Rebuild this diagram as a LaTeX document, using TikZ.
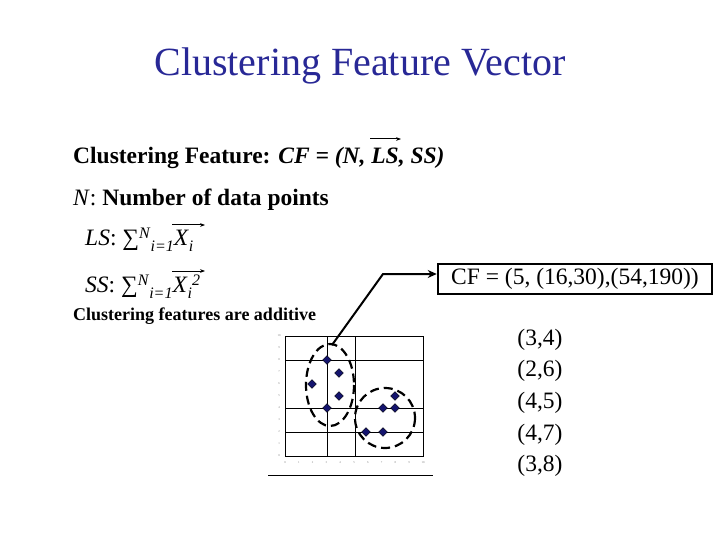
\documentclass[tikz,border=0pt]{standalone}
\usepackage{fontspec}
\setmainfont{Liberation Serif}
\usetikzlibrary{arrows.meta,shapes.geometric}
\definecolor{ttl}{RGB}{40,40,150}
\definecolor{pt}{RGB}{20,20,110}
\begin{document}
\begin{tikzpicture}[x=1pt,y=-1pt,
  lbl/.style={anchor=west,inner sep=0pt,font=\fontsize{23.5}{25}\selectfont},
  pnt/.style={diamond,fill=pt,draw=black,line width=0.3pt,minimum size=9pt,inner sep=0pt,shape aspect=1},
  grid/.style={line width=0.6pt},
  dashring/.style={line width=2.2pt,dash pattern=on 9pt off 5pt}]
\useasboundingbox (0,0) rectangle (720,540);
\node[font=\fontsize{40}{44}\selectfont,text=ttl] (title) at (360,66) {Clustering Feature Vector};
\node[lbl] (cf) at (73,158) {\textbf{Clustering Feature:} \textbf{\textit{CF = (N, LS, SS)}}};
\draw[-{Stealth[length=5pt]},line width=1pt] (370,139) -- (401,139);
\node[lbl] (n) at (73,200) {\textit{N}: \textbf{Number of data points}};
\node[lbl] (ls) at (85,240) {\textit{LS}: ∑\raisebox{7pt}{\fontsize{16}{16}\selectfont\textit{N}}\raisebox{-6pt}{\fontsize{16}{16}\selectfont\textit{i=1}}\textit{X}\raisebox{-6pt}{\fontsize{16}{16}\selectfont\textit{i}}};
\draw[-{Stealth[length=5pt]},line width=1pt] (172,225) -- (205,225);
\node[lbl] (ss) at (85,287) {\textit{SS}: ∑\raisebox{7pt}{\fontsize{16}{16}\selectfont\textit{N}}\raisebox{-6pt}{\fontsize{16}{16}\selectfont\textit{i=1}}\textit{X}\raisebox{-6pt}{\fontsize{16}{16}\selectfont\textit{i}}\raisebox{7pt}{\fontsize{16}{16}\selectfont\textit{2}}};
\draw[-{Stealth[length=5pt]},line width=1pt] (172,271) -- (205,271);
\node[lbl,font=\fontsize{18}{20}\selectfont\bfseries] (add) at (73,316) {Clustering features are additive};
% plot
\draw[grid] (285,336) rectangle (423,456);
\foreach \yy in {360,408,432} \draw[grid] (285,\yy) -- (423,\yy);
\foreach \xx in {327,355} \draw[grid] (\xx,336) -- (\xx,456);
\foreach \i in {0,...,10} \node[font=\fontsize{3}{3}\selectfont,gray] at (285+13.8*\i,463) {\i};
\foreach \i in {0,...,10} \node[font=\fontsize{3}{3}\selectfont,gray] at (279,456-12*\i) {\i};
\draw[line width=0.8pt] (268,475) -- (433,475);
\node[pnt] (p1) at (327,360) {};
\node[pnt] (p2) at (339,373) {};
\node[pnt] (p3) at (312,384) {};
\node[pnt] (p4) at (339,396) {};
\node[pnt] (p5) at (327,408) {};
\node[pnt] (q1) at (383,408) {};
\node[pnt] (q2) at (395,408) {};
\node[pnt] (q3) at (395,396) {};
\node[pnt] (q4) at (366,432) {};
\node[pnt] (q5) at (383,432) {};
\draw[dashring] (330,385) ellipse (24 and 41);
\draw[dashring] (385,418) ellipse (30 and 30);
% box
\node[draw,line width=2.5pt,minimum width=274pt,minimum height=30pt,inner sep=2pt,font=\fontsize{23.5}{25}\selectfont] (box) at (575,279) {CF = (5, (16,30),(54,190))};
\coordinate (tip) at (332,345);
\draw[line width=2pt,-{Stealth[length=9pt,width=8pt]}] (tip) -- (383,274) -- (box.west |- 0,274);
% list
\foreach \t/\yy in {(3{,}4)/340,(2{,}6)/371,(4{,}5)/403,(4{,}7)/435,(3{,}8)/466}
  \node[font=\fontsize{23.5}{25}\selectfont] at (540,\yy) {\t};
\end{tikzpicture}
\end{document}
